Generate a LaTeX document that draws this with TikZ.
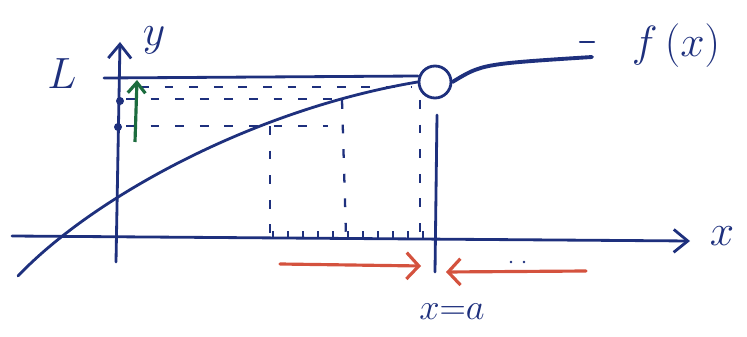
\documentclass[tikz,border=0pt]{standalone}
\usetikzlibrary{arrows.meta}

\definecolor{ink}{RGB}{30,48,125}
\definecolor{redink}{RGB}{212,82,62}
\definecolor{greenink}{RGB}{28,108,62}

\begin{document}
\begin{tikzpicture}[
    x=0.2mm, y=-0.2mm,
    every node/.style={text=ink, font=\fontsize{30}{34}\selectfont},
    pen/.style={draw=ink, line width=1.6pt, line cap=round, line join=round},
    guide/.style={draw=ink, line width=1.3pt, dash pattern=on 5pt off 9pt},
    axis/.style={pen, -{Straight Barb[length=8pt, width=13pt]}},
    approach/.style={draw=redink, line width=1.8pt, line cap=round, -{Straight Barb[length=7pt, width=15pt]}},
    hole/.style={circle, draw=ink, line width=1.6pt, minimum size=6.4mm, inner sep=0pt, fill=white},
    tick/.style={draw=ink, line width=1pt}
]
\useasboundingbox (0,0) rectangle (747,337);

% ---- sumbu x dan y ----
\coordinate (xstart) at (12,236);
\coordinate (xend)   at (690,241);
\coordinate (ystart) at (116,262);
\coordinate (yend)   at (120,42);
\draw[axis] (xstart) -- (xend);
\draw[axis] (ystart) -- (yend);
\node (xlab) at (722,236) {$x$};
\node (ylab) at (154,40)  {$y$};

% ---- garis limit L ----
\node[font=\fontsize{27}{30}\selectfont] (Llab) at (62,74) {$L$};
\coordinate (Lstart) at (104,78);
\coordinate (Lend)   at (418,76);
\draw[pen] (Lstart) -- (Lend);

% ---- garis bantu putus-putus ----
\draw[guide] (140,87)  -- (412,87);
\draw[guide] (126,99)  -- (340,99);
\draw[guide] (126,126) -- (328,126);
\draw[guide] (270,126) -- (270,236);
\draw[guide] (342,100) -- (346,236);
\draw[guide] (420,100) -- (420,238);

% ---- arsiran kecil di sumbu x ----
\foreach \t in {273,288,...,428}
    \draw[tick] (\t,239) -- (\t,231);

% ---- kurva f(x) dan titik kosong ----
\node[hole] (hole) at (435,82) {};
\draw[pen] (18,276) .. controls (90,200) and (250,110) .. (hole.west);
\draw[pen, line width=2.2pt] (hole.east) .. controls (482,64) .. (592,57);
\draw[pen, line width=1.2pt] (580,42) -- (594,42);
\node[font=\fontsize{36}{40}\selectfont] (flab) at (676,46) {$f\,(x)$};

% ---- titik pada sumbu y dan panah hijau ----
\fill[ink] (120,101) circle (4);
\fill[ink] (118,127) circle (4);
\coordinate (gstart) at (135,142);
\coordinate (gend)   at (137,80);
\draw[draw=greenink, line width=1.8pt, -{Straight Barb[length=6pt, width=10pt]}] (gstart) -- (gend);

% ---- garis tegak x = a ----
\coordinate (atop) at (437,115);
\coordinate (abot) at (435,272);
\draw[pen] (atop) -- (abot);
\node[font=\fontsize{22}{26}\selectfont] (alab) at (452,312) {$x{=}a$};

% ---- panah merah: mendekati a dari kiri dan kanan ----
\coordinate (lstart) at (280,264);
\coordinate (lend)   at (421,266);
\coordinate (rstart) at (586,271);
\coordinate (rend)   at (446,272);
\draw[approach] (lstart) -- (lend);
\draw[approach] (rstart) -- (rend);
\fill[ink] (511,262) circle (1.4);
\fill[ink] (524,262) circle (1.4);

\end{tikzpicture}
\end{document}
